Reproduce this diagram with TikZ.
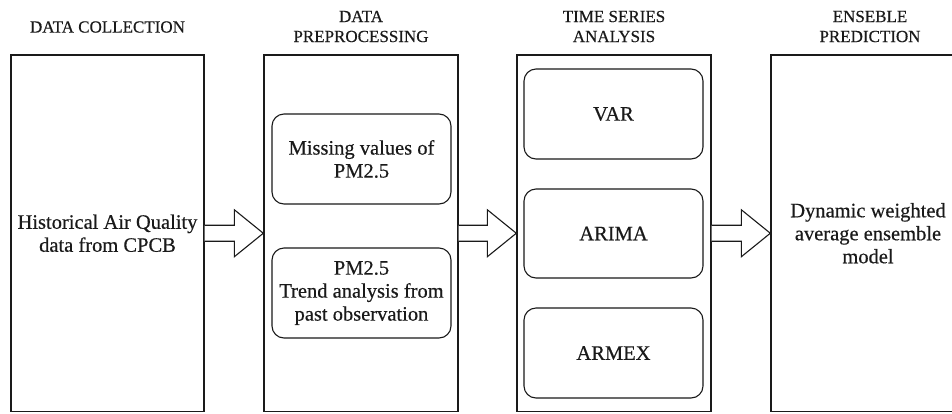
\documentclass[tikz,border=0pt]{standalone}
\usepackage{fontspec}
\setmainfont{Liberation Serif}[FakeBold=0.4]
\usetikzlibrary{calc}
\definecolor{ink}{HTML}{1A1A1A}
\newcommand{\bodyfnt}{\fontsize{20.5}{23}\selectfont}
\newcommand{\headfnt}{\fontsize{17}{20}\selectfont}
\newcommand{\blockarrow}[2]{%
  \draw[arrowline] let \p1=(#1.east), \p2=(#2.west) in
    (\x1,\y1+8) -- (\x2-29,\y1+8) -- (\x2-29,\y1+23.5) -- (\x2,\y1)
    -- (\x2-29,\y1-23.5) -- (\x2-29,\y1-8) -- (\x1,\y1-8);}
\begin{document}
\begin{tikzpicture}[x=1pt,y=-1pt,
  stagebox/.style={draw=ink,line width=1.4pt,minimum width=194pt,minimum height=356.5pt,
    inner sep=0pt,align=center,font=\bodyfnt,text=ink},
  subbox/.style={draw=ink,line width=1.1pt,rounded corners=12pt,minimum width=179pt,
    minimum height=90pt,inner sep=0pt,align=center,font=\bodyfnt,text=ink},
  headlbl/.style={align=center,font=\headfnt,text=ink,inner sep=0pt},
  arrowline/.style={draw=ink,line width=1.1pt,line join=miter,fill=white}]
\clip (0,0) rectangle (952,413);
\fill[white] (0,0) rectangle (952,413);
% stage boxes
\node[stagebox,minimum width=193pt] (b1) at (107.5,233.25) {Historical Air Quality\\data from CPCB};
\node[stagebox] (b2) at (361,233.25) {};
\node[stagebox] (b3) at (614,233.25) {};
\node[stagebox] (b4) at (868,233.25) {Dynamic weighted\\average ensemble\\model};
% headings
\node[headlbl] (h1) at (107.5,27) {DATA COLLECTION};
\node[headlbl] (h2) at (361,26.5) {DATA\\PREPROCESSING};
\node[headlbl] (h3) at (614,26.5) {TIME SERIES\\ANALYSIS};
\node[headlbl] (h4) at (870,26.5) {ENSEBLE\\PREDICTION};
% preprocessing sub-boxes
\node[subbox] (m1) at (361.5,159) {Missing values of\\PM2.5};
\node[subbox] (m2) at (361.5,293) {PM2.5\\Trend analysis from\\past observation};
% time series sub-boxes
\node[subbox] (v1) at (613.5,114) {VAR};
\node[subbox,minimum height=89pt] (v2) at (613.5,233.5) {ARIMA};
\node[subbox] (v3) at (613.5,353) {ARMEX};
% block arrows
\blockarrow{b1}{b2}
\blockarrow{b2}{b3}
\blockarrow{b3}{b4}
\end{tikzpicture}
\end{document}
